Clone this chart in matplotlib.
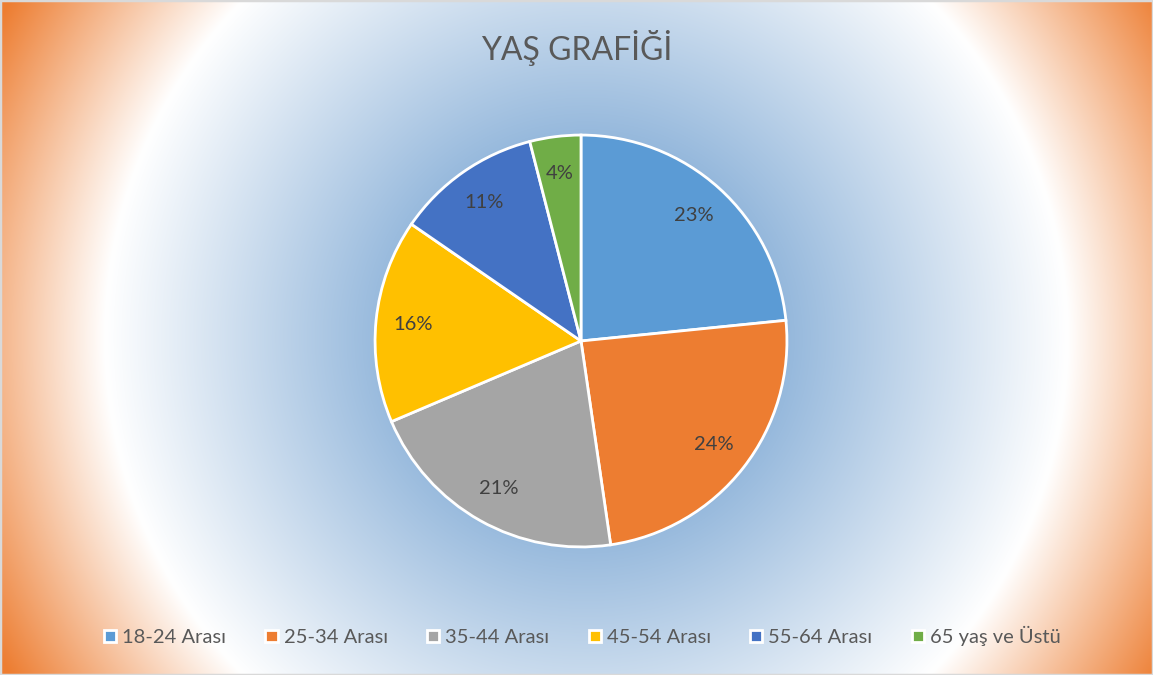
import numpy as np
import matplotlib.pyplot as plt
from matplotlib.colors import to_rgb
from matplotlib.patches import Rectangle

W, H = 1153, 675

TITLE = "YAŞ GRAFİĞİ"
categories = ["18-24 Arası", "25-34 Arası", "35-44 Arası",
              "45-54 Arası", "55-64 Arası", "65 yaş ve Üstü"]
shares = [23.4, 24.3, 20.9, 16.0, 11.4, 4.0]
colors = ["#5B9BD5", "#ED7D31", "#A5A5A5", "#FFC000", "#4472C4", "#70AD47"]

# radial background: blue centre -> white ring -> orange corners
BG_STOPS = [(0.0, "#8DB1D9"), (0.30, "#95B8DC"), (0.72, "#FFFFFF"), (1.0, "#ED7D31")]

plt.rcParams['font.family'] = ['Lato', 'DejaVu Sans']


def radial_background(cx=586, cy=337):
    yy, xx = np.mgrid[0:H, 0:W]
    t = np.hypot(xx - cx, yy - cy) / np.hypot(W / 2, H / 2)
    t = np.clip(t, 0, 1)
    pos = [s[0] for s in BG_STOPS]
    rgb = np.array([to_rgb(s[1]) for s in BG_STOPS])
    img = np.zeros((H, W, 3))
    for c in range(3):
        img[..., c] = np.interp(t, pos, rgb[:, c])
    return img


fig = plt.figure(figsize=(W / 100, H / 100), dpi=100)

bg = fig.add_axes([0, 0, 1, 1])
bg.imshow(radial_background(), aspect='auto', extent=(0, W, H, 0))
bg.set_xlim(0, W)
bg.set_ylim(H, 0)
bg.axis('off')

# pie centre (581, 341) px, radius 208 px
r = 208
ax = fig.add_axes([(581 - r) / W, (H - 341 - r) / H, 2 * r / W, 2 * r / H])
wedges, _, autotexts = ax.pie(
    shares, colors=colors, startangle=90, counterclock=False,
    autopct='%.0f%%', pctdistance=0.82, radius=1,
    wedgeprops=dict(edgecolor='white', linewidth=2),
    textprops=dict(color='#404040', fontsize=14.5),
)
ax.set_xlim(-1.01, 1.01)
ax.set_ylim(-1.01, 1.01)
ax.set_aspect('equal')

fig.text(0.5, 1 - 48 / H, TITLE, ha='center', va='center',
         fontsize=23, color='#595959')

fig.legend(wedges, categories, loc='center', bbox_to_anchor=(0.505, 1 - 636 / H),
           ncol=6, frameon=False, fontsize=14.5, labelcolor='#595959',
           handlelength=0.6, handleheight=0.6, handletextpad=0.3,
           columnspacing=1.95)

fig.add_artist(Rectangle((0, 0), 1, 1, transform=fig.transFigure, fill=False,
                         edgecolor='#D9D9D9', linewidth=2.5))

fig.savefig("out.png", dpi=100)
